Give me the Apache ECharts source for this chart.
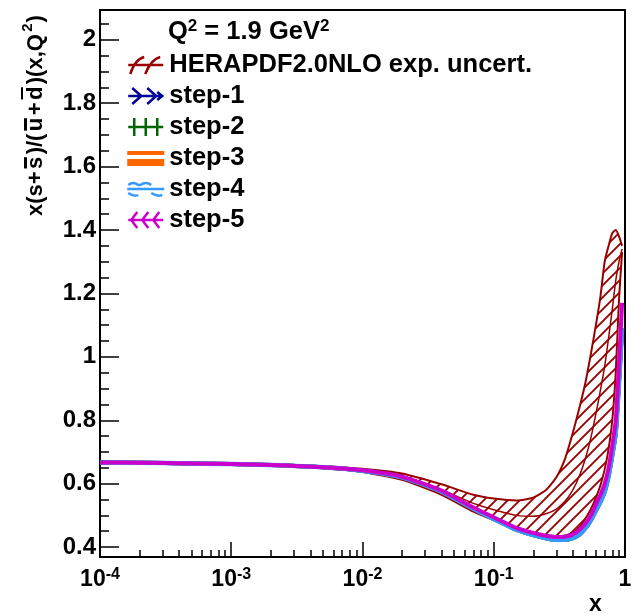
<!DOCTYPE html>
<html><head><meta charset="utf-8">
<script src="https://cdn.jsdelivr.net/npm/echarts@6/dist/echarts.min.js"></script>
<style>html,body{margin:0;padding:0;background:#fff}#c{width:644px;height:616px}</style>
</head><body><div id="c"></div>
<script>
// ---- data ----
const xValues     = [1e-4, 2e-4, 5e-4, 1e-3, 2e-3, 5e-3, 0.01, 0.02, 0.04, 0.07, 0.1, 0.15, 0.2, 0.25, 0.3, 0.35, 0.4, 0.45, 0.5, 0.55, 0.6, 0.65, 0.7, 0.75, 0.8, 0.85, 0.9, 0.95];
const heraUpper   = [0.669, 0.668, 0.666, 0.664, 0.661, 0.655, 0.647, 0.632, 0.598, 0.565, 0.553, 0.547, 0.556, 0.58, 0.62, 0.68, 0.76, 0.84, 0.92, 1.01, 1.10, 1.19, 1.30, 1.35, 1.39, 1.40, 1.38, 1.35];
const heraLower   = [0.665, 0.664, 0.662, 0.660, 0.657, 0.649, 0.637, 0.612, 0.565, 0.512, 0.485, 0.455, 0.443, 0.437, 0.435, 0.437, 0.445, 0.463, 0.49, 0.52, 0.555, 0.595, 0.645, 0.71, 0.80, 0.95, 1.18, 1.33];
const heraCentral = [0.667, 0.666, 0.664, 0.662, 0.659, 0.652, 0.642, 0.622, 0.581, 0.538, 0.518, 0.50, 0.497, 0.505, 0.52, 0.545, 0.58, 0.625, 0.68, 0.745, 0.82, 0.895, 0.97, 1.06, 1.15, 1.24, 1.30, 1.34];
const step1 = [0.667, 0.666, 0.664, 0.662, 0.659, 0.652, 0.641, 0.620, 0.575, 0.521, 0.489, 0.454, 0.438, 0.428, 0.423, 0.423, 0.428, 0.44, 0.46, 0.485, 0.515, 0.543, 0.575, 0.625, 0.69, 0.76, 0.92, 1.09];
const step2 = [0.667, 0.666, 0.664, 0.662, 0.659, 0.652, 0.641, 0.620, 0.575, 0.521, 0.489, 0.454, 0.438, 0.428, 0.423, 0.423, 0.428, 0.44, 0.46, 0.485, 0.515, 0.543, 0.575, 0.625, 0.69, 0.76, 0.92, 1.09];
const step3 = [0.667, 0.666, 0.664, 0.662, 0.659, 0.652, 0.641, 0.620, 0.575, 0.521, 0.489, 0.454, 0.438, 0.428, 0.423, 0.423, 0.428, 0.44, 0.46, 0.485, 0.515, 0.543, 0.575, 0.625, 0.69, 0.76, 0.92, 1.09];
const step4 = [0.667, 0.666, 0.664, 0.662, 0.659, 0.652, 0.641, 0.620, 0.575, 0.521, 0.489, 0.454, 0.438, 0.428, 0.423, 0.423, 0.428, 0.44, 0.46, 0.485, 0.515, 0.543, 0.575, 0.625, 0.69, 0.76, 0.92, 1.09];
const step5 = [0.667, 0.666, 0.664, 0.662, 0.659, 0.652, 0.642, 0.622, 0.578, 0.525, 0.494, 0.46, 0.445, 0.436, 0.432, 0.433, 0.44, 0.455, 0.475, 0.50, 0.535, 0.565, 0.60, 0.65, 0.72, 0.80, 0.98, 1.17];
const xTickValues = [1e-4, 1e-3, 1e-2, 1e-1, 1];
const xTickExponents = ['-4', '-3', '-2', '-1', ''];
const yTickValues = [0.4, 0.6, 0.8, 1, 1.2, 1.4, 1.6, 1.8, 2];
const legendNames = ['HERAPDF2.0NLO exp. uncert.', 'step-1', 'step-2', 'step-3', 'step-4', 'step-5'];
const headerText = ['Q', '2', ' = 1.9 GeV', '2'];

// ---- styles ----
const FONT = '"Liberation Sans", Arial, Helvetica, sans-serif';
const C_HERA = '#990000', C_S1 = '#000099', C_S2 = '#006600', C_S3 = '#ff6600', C_S4 = '#3399ff', C_S5 = '#cc00cc';
const SMOOTH = 0.2;

const xMinor = [];
for (let e = -4; e < 0; e++) for (let k = 2; k <= 9; k++) xMinor.push(k * Math.pow(10, e));
const yMinor = [];
for (let k = 0; k <= 33; k++) { const v = +(0.4 + 0.05 * k).toFixed(2); if (Math.abs(v * 5 - Math.round(v * 5)) > 1e-6 && v < 2.09) yMinor.push(v); }

function hatchCanvas() {
  const s = 12;
  const c = document.createElement('canvas'); c.width = s; c.height = s;
  const g = c.getContext('2d'); g.strokeStyle = C_HERA; g.lineWidth = 1.9;
  g.beginPath();
  g.moveTo(-1, s + 1); g.lineTo(s + 1, -1);
  g.moveTo(-s / 2 - 1, s / 2 + 1); g.lineTo(s / 2 + 1, -s / 2 - 1);
  g.moveTo(s / 2 - 1, s * 1.5 + 1); g.lineTo(s * 1.5 + 1, s / 2 - 1);
  g.stroke();
  return c;
}
const hatchFill = {image: hatchCanvas(), repeat: 'repeat'};
const pairs = arr => xValues.map((x, i) => [x, arr[i]]);

const chart = echarts.init(document.getElementById('c'), null, {renderer: 'canvas'});

const lineSeries = (name, arr, color, width) => ({
  name, type: 'line', data: pairs(arr), showSymbol: false, symbol: 'none', smooth: SMOOTH,
  lineStyle: {color, width}, itemStyle: {color}, silent: true
});

// y-title pieces measured for overlines
const titleFs = 22, pieceGap = 2.4;
const ctx = document.createElement('canvas').getContext('2d');
const pieces = [['x(s+', 0], ['s', 1], [')/(', 0], ['u', 1], ['+', 0], ['d', 2], [')(x,Q', 0], ['2', 3], [')', 0]];
const titleChildren = [];
let cx = 0;
pieces.forEach(([t, kind]) => {
  const fs = kind === 3 ? 15 : titleFs;
  const font = 'bold ' + fs + 'px ' + FONT;
  ctx.font = font;
  const w = ctx.measureText(t).width;
  titleChildren.push({type: 'text', style: {x: cx, y: kind === 3 ? -12 : 0, text: t, font, fill: '#000', verticalAlign: 'bottom'}});
  if (kind === 1 || kind === 2) {
    titleChildren.push({type: 'rect', shape: {x: cx + 0.5, y: kind === 2 ? -26 : -23, width: w - 1, height: kind === 2 ? 2 : 3}, style: {fill: '#000'}});
  }
  cx += w + (kind === 3 ? 1 : pieceGap);
});

const iconStroke = c => ({color: 'transparent', borderColor: c, borderWidth: 2.5});
const legendData = [
  {name: legendNames[0], icon: 'path://M0 0 M37 20 M1 10 L36 10 M3 19 Q8 4 17 2 M18 19 Q24 4 33 2', itemStyle: iconStroke(C_HERA)},
  {name: legendNames[1], icon: 'path://M0 0 M37 20 M1 10 L36 10 M5 2 L14 10 L5 18 M20 2 L29 10 L20 18 M30 6 L35 10 L30 14', itemStyle: iconStroke(C_S1)},
  {name: legendNames[2], icon: 'path://M0 0 M37 20 M1 10 L36 10 M7 1 L7 19 M18.5 1 L18.5 19 M30 1 L30 19', itemStyle: iconStroke(C_S2)},
  {name: legendNames[3], icon: 'path://M0 0 M37 20 M0 3 L37 3 L37 7 L0 7 Z M0 11 L37 11 L37 18 L0 18 Z', itemStyle: {color: C_S3, borderWidth: 0}},
  {name: legendNames[4], icon: 'path://M0 0 M37 20 M0 10 L37 10 M1 6 Q6 2 11 6 L13 6 Q19 2 24 6 M1 14 Q7 18 11 16 M24 14 Q30 18 35 16', itemStyle: iconStroke(C_S4)},
  {name: legendNames[5], icon: 'path://M0 0 M37 20 M1 10 L36 10 M10 2 L4 10 L10 18 M21 2 L15 10 L21 18 M32 2 L26 10 L32 18', itemStyle: iconStroke(C_S5)}
];

const option = {
  animation: false,
  backgroundColor: '#fff',
  textStyle: {fontFamily: FONT},
  grid: {left: 100, top: 10, width: 525, height: 550, show: true, borderColor: '#000', borderWidth: 2, backgroundColor: 'transparent', containLabel: false},
  title: {
    left: 168, top: 18, padding: 0,
    text: '{n|' + headerText[0] + '}{s|' + headerText[1] + '}{n|' + headerText[2] + '}{s|' + headerText[3] + '}',
    textStyle: {rich: {
      n: {fontSize: 25.5, fontWeight: 'bold', fontFamily: FONT, color: '#000', lineHeight: 27, verticalAlign: 'bottom'},
      s: {fontSize: 17, fontWeight: 'bold', fontFamily: FONT, color: '#000', lineHeight: 27, verticalAlign: 'top'}
    }}
  },
  legend: {
    orient: 'vertical', left: 126, top: 52, padding: 0, itemWidth: 37, itemHeight: 20, itemGap: 5, itemTextGap: 5,
    selectedMode: false, symbolKeepAspect: false,
    textStyle: {fontSize: 25.5, fontWeight: 'bold', color: '#000', fontFamily: FONT, lineHeight: 25},
    data: legendData
  },
  xAxis: [{
    type: 'log', logBase: 10, min: 1e-4, max: 1, position: 'bottom',
    axisLine: {show: true, lineStyle: {color: '#000', width: 2}},
    axisTick: {show: true, inside: true, length: 15, customValues: xTickValues, lineStyle: {color: '#000', width: 1.5}},
    minorTick: {show: false}, splitLine: {show: false},
    axisLabel: {
      show: true, margin: 10, customValues: xTickValues,
      formatter: v => {
        let best = 0;
        xTickValues.forEach((t, i) => { if (Math.abs(Math.log10(t) - Math.log10(v)) < Math.abs(Math.log10(xTickValues[best]) - Math.log10(v))) best = i; });
        const e = xTickExponents[best];
        return e ? '{b|10}{s|' + e + '}' : '{b|1}';
      },
      rich: {
        b: {fontSize: 23, fontWeight: 'bold', fontFamily: FONT, color: '#000', lineHeight: 24, verticalAlign: 'bottom'},
        s: {fontSize: 16, fontWeight: 'bold', fontFamily: FONT, color: '#000', lineHeight: 24, verticalAlign: 'top'}
      }
    },
    name: 'x', nameLocation: 'end', nameGap: -36,
    nameTextStyle: {fontSize: 23, fontWeight: 'bold', color: '#000', fontFamily: FONT, verticalAlign: 'top', align: 'left', padding: [36, 0, 0, 0]}
  }, {
    type: 'log', logBase: 10, min: 1e-4, max: 1, position: 'bottom',
    axisLine: {show: false}, splitLine: {show: false}, axisLabel: {show: false},
    axisTick: {show: true, inside: true, length: 7, customValues: xMinor, lineStyle: {color: '#000', width: 1.5}}
  }],
  yAxis: [{
    type: 'value', min: 0.36875, max: 2.09375, position: 'left',
    axisLine: {show: true, lineStyle: {color: '#000', width: 2}},
    axisTick: {show: true, inside: true, length: 19, customValues: yTickValues, lineStyle: {color: '#000', width: 1.5}},
    splitLine: {show: false},
    axisLabel: {show: true, margin: 4, customValues: yTickValues, fontSize: 24, fontWeight: 'bold', color: '#000', fontFamily: FONT}
  }, {
    type: 'value', min: 0.36875, max: 2.09375, position: 'left',
    axisLine: {show: false}, splitLine: {show: false}, axisLabel: {show: false},
    axisTick: {show: true, inside: true, length: 9, customValues: yMinor, lineStyle: {color: '#000', width: 1.5}}
  }],
  graphic: [{
    type: 'group', x: 47, y: 216, rotation: Math.PI / 2, children: titleChildren
  }],
  series: [
    {name: 'hera-band', type: 'custom', clip: true, silent: true, data: [[xValues[0], heraUpper[0]]],
     renderItem: (params, api) => {
       const pts = [];
       xValues.forEach((x, i) => pts.push(api.coord([x, heraUpper[i]])));
       for (let i = xValues.length - 1; i >= 0; i--) pts.push(api.coord([xValues[i], heraLower[i]]));
       return {type: 'polygon', shape: {points: pts}, style: {fill: hatchFill, stroke: null}};
     }},
    {name: 'hera-lower', type: 'line', data: pairs(heraLower), showSymbol: false, symbol: 'none', smooth: SMOOTH,
     lineStyle: {color: C_HERA, width: 2}, silent: true},
    {name: legendNames[0], type: 'line', data: pairs(heraUpper), showSymbol: false, symbol: 'none', smooth: SMOOTH,
     lineStyle: {color: C_HERA, width: 2}, itemStyle: {color: C_HERA}, silent: true},
    {name: 'hera-central', type: 'line', data: pairs(heraCentral), showSymbol: false, symbol: 'none', smooth: SMOOTH,
     lineStyle: {color: C_HERA, width: 1.5}, silent: true},
    lineSeries(legendNames[1], step1, C_S1, 4),
    lineSeries(legendNames[2], step2, C_S2, 4),
    lineSeries(legendNames[3], step3, C_S3, 4),
    lineSeries(legendNames[4], step4, C_S4, 4.5),
    lineSeries(legendNames[5], step5, C_S5, 4)
  ]
};
chart.setOption(option);
</script>
</body></html>
